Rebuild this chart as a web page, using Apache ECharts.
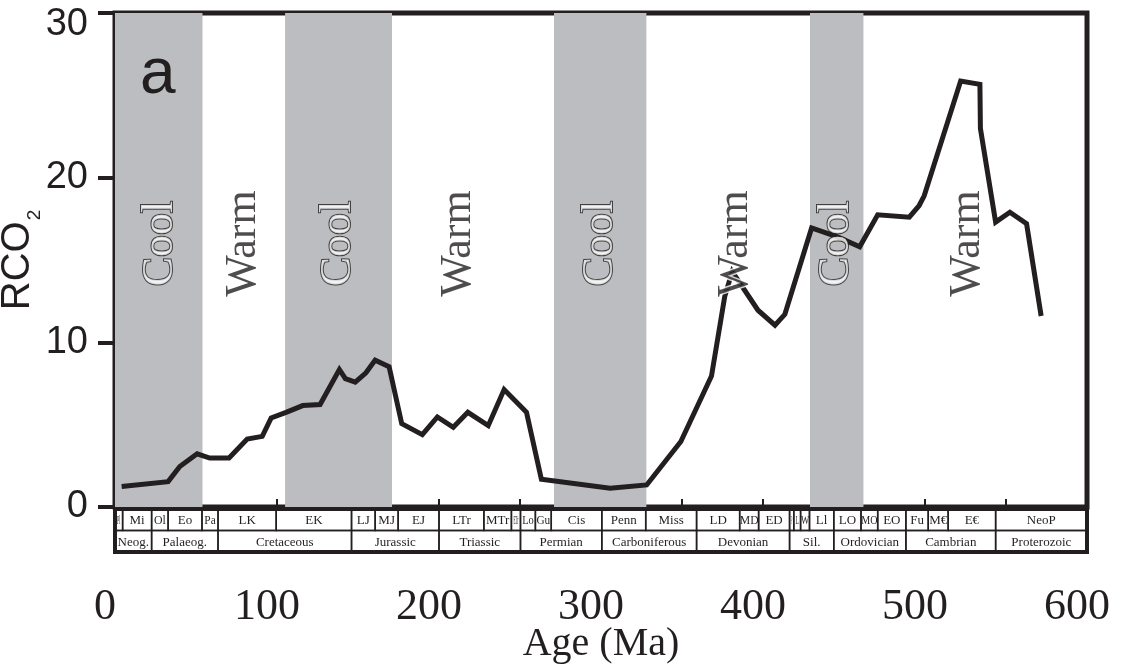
<!DOCTYPE html>
<html>
<head>
<meta charset="utf-8">
<script src="https://cdn.jsdelivr.net/npm/echarts@6/dist/echarts.min.js"></script>
<style>
  html, body { margin: 0; padding: 0; background: #fff; }
  #chart { width: 1126px; height: 668px; }
</style>
</head>
<body>
<div id="chart"></div>
<script>
// RCO2 curve, age in Ma
var ages = [4.1, 32.8, 40, 50.7, 58.5, 70.4, 81.6, 90.9, 96.4, 105.6, 115.9, 126.6, 138.5, 142.2, 148.3, 154.9, 160.6, 169.2, 177, 189.7,
            199, 208.8, 217.8, 230.4, 240.2, 254, 263.2, 305.6, 328.2, 349.3, 368.2, 376.4, 381, 396.9, 407.4, 413.5, 430, 446, 459.7,
            470.8, 490.3, 496.4, 499.5, 522, 533.9, 534.2, 543.6, 552.4, 562.7, 571.7];
var rco2 = [1.24, 1.54, 2.46, 3.23, 2.97, 2.97, 4.13, 4.29, 5.41, 5.75, 6.16, 6.22, 8.35, 7.79, 7.58, 8.15, 8.92, 8.52, 5.06, 4.39,
            5.47, 4.84, 5.75, 4.94, 7.13, 5.75, 1.69, 1.14, 1.34, 3.98, 7.95, 12.8, 14.3, 11.95, 11.04, 11.7, 16.95, 16.4, 15.8,
            17.74, 17.6, 18.31, 18.9, 25.87, 25.67, 22.99, 17.3, 17.9, 17.2, 11.6];

// cool intervals (grey bands)
var coolStart = [0, 105, 271, 429];
var coolEnd = [54, 171, 328, 462];

// climate labels
var climateNames = ['Cool', 'Warm', 'Cool', 'Warm', 'Cool', 'Warm', 'Cool', 'Warm'];
var climateAges = [28, 79, 138, 212, 299.5, 383, 445.5, 526];
var climateLevel = 16;

// time scale, upper row (epochs) and lower row (periods)
var epochNames = ['Pl', 'Mi', 'Ol', 'Eo', 'Pa', 'LK', 'EK', 'LJ', 'MJ', 'EJ', 'LTr', 'MTr', 'ETr', 'Lo', 'Gu', 'Cis', 'Penn', 'Miss',
                  'LD', 'MD', 'ED', 'P', 'L', 'W', 'Ll', 'LO', 'MO', 'EO', 'Fu', 'M€', 'E€', 'NeoP'];
var epochBounds = [0, 4.7, 22.6, 32.8, 53.7, 63.6, 99.5, 146, 160.6, 174.8, 200, 227.7, 244.7, 250.3, 259.5, 269.3, 300.5, 327.6, 359,
                   385.6, 397.3, 416.4, 419, 423.2, 428.7, 443.7, 460.5, 470.8, 488.2, 502, 514.3, 543.6, 600];
var periodNames = ['Neog.', 'Palaeog.', 'Cretaceous', 'Jurassic', 'Triassic', 'Permian', 'Carboniferous', 'Devonian', 'Sil.',
                   'Ordovician', 'Cambrian', 'Proterozoic'];
var periodBounds = [0, 22.6, 63.6, 146, 200, 250.3, 300.5, 359, 416.4, 443.7, 488.2, 543.6, 600];

var ink = '#231f20';
var serif = '"Liberation Serif", "DejaVu Serif", serif';
var sans = '"Liberation Sans", Arial, sans-serif';

var chart = echarts.init(document.getElementById('chart'));

var lineData = ages.map(function (a, i) { return [a, rco2[i]]; });
var bands = coolStart.map(function (s, i) {
    return [{ xAxis: s }, { xAxis: coolEnd[i] }];
});
var labelData = climateNames.map(function (n, i) {
    var cool = n === 'Cool';
    return {
        value: [climateAges[i], climateLevel],
        name: n,
        label: {
            color: cool ? '#fff' : ink,
            textBorderColor: cool ? ink : '#fff',
            textBorderWidth: cool ? 2 : 3
        }
    };
});

var cells = [];
epochNames.forEach(function (n, i) { cells.push({ value: [epochBounds[i], epochBounds[i + 1], 0], name: n }); });
periodNames.forEach(function (n, i) { cells.push({ value: [periodBounds[i], periodBounds[i + 1], 1], name: n }); });

function textWidth(s, size) {
    var w = 0;
    for (var i = 0; i < s.length; i++) {
        var c = s.charAt(i);
        if (c === '.') w += 0.25;
        else if (c === '€') w += 0.5;
        else if (c >= 'A' && c <= 'Z') w += 0.68;
        else w += 0.46;
    }
    return w * size;
}

var option = {
    animation: false,
    backgroundColor: '#fff',
    title: {
        text: 'a',
        left: 135,
        top: 38,
        textStyle: { fontFamily: sans, fontSize: 64, fontWeight: 'normal', color: ink }
    },
    grid: [
        { left: 115, right: 39, top: 13, height: 494, show: true, borderColor: ink, borderWidth: 5, outerBoundsMode: 'none', containLabel: false },
        { left: 115, right: 39, top: 509, height: 43, show: true, borderColor: ink, borderWidth: 4, outerBoundsMode: 'none', containLabel: false }
    ],
    xAxis: [
        {
            gridIndex: 0, type: 'value', min: 0, max: 600, interval: 50,
            axisLine: { show: false },
            axisTick: { show: true, inside: true, length: 8, lineStyle: { color: ink, width: 2 } },
            axisLabel: { show: false },
            splitLine: { show: false }
        },
        {
            gridIndex: 1, type: 'value', min: 0, max: 600, interval: 100,
            axisLine: { show: false },
            axisTick: { show: false },
            splitLine: { show: false },
            axisLabel: { fontFamily: serif, fontSize: 44, color: ink, margin: 33, padding: [0, 20, 0, 0] },
            name: 'Age (Ma)',
            nameLocation: 'middle',
            nameGap: 72,
            nameMoveOverlap: false,
            nameTextStyle: { fontFamily: serif, fontSize: 40, color: ink }
        }
    ],
    yAxis: [
        {
            gridIndex: 0, type: 'value', min: 0, max: 30, interval: 10,
            axisLine: { show: false },
            axisTick: { show: true, length: 17, lineStyle: { color: ink, width: 4 } },
            axisLabel: {
                fontFamily: sans, fontSize: 38, color: ink, margin: 27,
                formatter: function (v) { return v === 30 ? '{t|30}' : String(v); },
                rich: { t: { fontFamily: sans, fontSize: 38, color: ink, lineHeight: 62, verticalAlign: 'bottom' } }
            },
            splitLine: { show: false },
            name: '{m|RCO}{s|2}',
            nameLocation: 'middle',
            nameRotate: 90,
            nameGap: 77,
            nameMoveOverlap: false,
            nameTextStyle: {
                rich: {
                    m: { fontFamily: sans, fontSize: 40, color: ink, lineHeight: 40 },
                    s: { fontFamily: sans, fontSize: 19, color: ink, lineHeight: 40, verticalAlign: 'bottom', padding: [0, 0, -6, 1] }
                }
            }
        },
        { gridIndex: 1, type: 'value', min: 0, max: 2, inverse: true, show: false }
    ],
    series: [
        {
            type: 'line', xAxisIndex: 0, yAxisIndex: 0, z: 1,
            data: [], silent: true,
            markArea: { silent: true, itemStyle: { color: '#bcbdc0' }, data: bands }
        },
        {
            type: 'line', xAxisIndex: 0, yAxisIndex: 0, z: 3,
            data: lineData, symbol: 'none', silent: true,
            lineStyle: { color: ink, width: 5, join: 'miter' }
        },
        {
            type: 'scatter', xAxisIndex: 0, yAxisIndex: 0, z: 4,
            symbolSize: 0, silent: true,
            data: labelData,
            label: {
                show: true, position: 'inside', rotate: 90,
                formatter: '{b}', fontFamily: serif, fontSize: 44
            }
        },
        {
            type: 'custom', xAxisIndex: 1, yAxisIndex: 1, z: 5, silent: true,
            data: cells,
            renderItem: function (params, api) {
                var p0 = api.coord([api.value(0), api.value(2)]);
                var p1 = api.coord([api.value(1), api.value(2) + 1]);
                var w = p1[0] - p0[0], h = p1[1] - p0[1];
                var name = cells[params.dataIndex].name;
                var size = 13;
                var tw = textWidth(name, size);
                var sx = Math.min(1, (w - 3) / tw);
                return {
                    type: 'group',
                    children: [
                        { type: 'rect', shape: { x: p0[0], y: p0[1], width: w, height: h },
                          style: { fill: 'none', stroke: ink, lineWidth: 1.5 } },
                        { type: 'text', x: p0[0] + w / 2, y: p0[1] + h / 2 + 1, scaleX: sx,
                          style: { text: name, fill: ink, fontSize: size, fontFamily: serif, align: 'center', verticalAlign: 'middle' } }
                    ]
                };
            }
        }
    ]
};
chart.setOption(option);
</script>
</body>
</html>
